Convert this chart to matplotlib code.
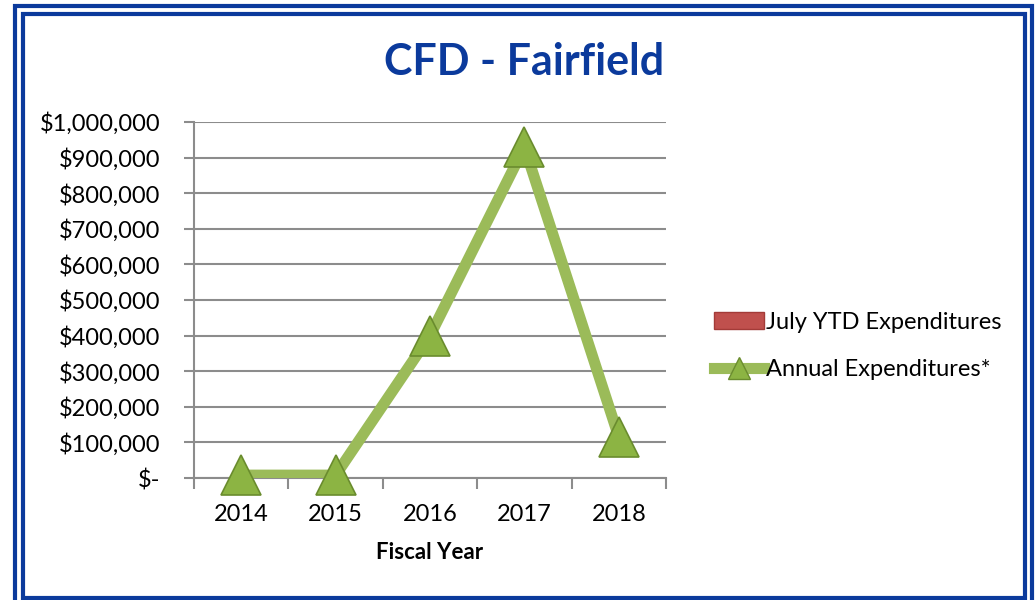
import matplotlib
matplotlib.use("Agg")
import matplotlib.pyplot as plt
from matplotlib.patches import Rectangle
from matplotlib.lines import Line2D
from matplotlib.patches import Patch
from matplotlib.ticker import FuncFormatter, MultipleLocator
import numpy as np

years = ["2014", "2015", "2016", "2017", "2018"]
july_ytd = [0, 0, 0, 0, 0]
annual = [8000, 8000, 400000, 930000, 115000]

title = "CFD - Fairfield"
xlabel = "Fiscal Year"
legend_labels = ["July YTD Expenditures", "Annual Expenditures*"]

BLUE = "#0B3A9C"
GREEN = "#9BBB59"
MARKER_FACE = "#8CB443"
MARKER_EDGE = "#6A8C2E"
GRID = "#8C8C8C"

plt.rcParams["font.family"] = ["Lato", "DejaVu Sans"]

fig = plt.figure(figsize=(10.36, 6.0), dpi=100)
W, H = 1036, 600


def frame(left, top, right, bottom, lw):
    fig.add_artist(Rectangle((left / W, (H - bottom) / H), (right - left) / W, (bottom - top) / H,
                             transform=fig.transFigure, fill=False, edgecolor=BLUE,
                             linewidth=lw, clip_on=False))


# double border
frame(15, 5.5, 1032, 606, 3.0)
frame(22.5, 13.5, 1025, 597.5, 3.0)

ax = fig.add_axes([194 / W, (H - 478) / H, (666 - 194) / W, (478 - 122) / H])
x = np.arange(len(years))

ax.bar(x, july_ytd, width=0.6, color="#C0504D", zorder=2)
ax.plot(x, annual, color=GREEN, linewidth=8, solid_joinstyle="miter", zorder=3)
ax.plot(x, annual, linestyle="none", marker="^", markersize=29,
        markerfacecolor=MARKER_FACE, markeredgecolor=MARKER_EDGE, markeredgewidth=1.2,
        zorder=4, clip_on=False)

ax.set_xlim(-0.5, len(years) - 0.5)
ax.set_ylim(0, 1000000)
ax.yaxis.set_major_locator(MultipleLocator(100000))
ax.yaxis.set_major_formatter(FuncFormatter(lambda v, p: "$-" if v == 0 else f"${v:,.0f}"))
ax.grid(axis="y", color=GRID, linewidth=1.5, zorder=0)
ax.set_axisbelow(True)

ax.set_xticks(x)
ax.set_xticklabels(years)
ax.set_xticks(np.arange(len(years) + 1) - 0.5, minor=True)
ax.tick_params(axis="x", which="major", length=0, pad=19, labelsize=17)
ax.tick_params(axis="x", which="minor", length=8, width=1.5, color=GRID, direction="out")
ax.tick_params(axis="y", length=7, width=1.5, color=GRID, direction="out", pad=17, labelsize=17)

for side in ["top", "right"]:
    ax.spines[side].set_visible(False)
for side in ["left", "bottom"]:
    ax.spines[side].set_color(GRID)
    ax.spines[side].set_linewidth(1.5)

ax.set_xlabel(xlabel, fontsize=16, fontweight="bold", labelpad=12)

fig.text(524 / W, (H - 62) / H, title, ha="center", va="center",
         fontsize=31, fontweight="bold", color=BLUE)

handles = [
    Patch(facecolor="#C0504D", edgecolor="#A33B38"),
    Line2D([0], [0], color=GREEN, linewidth=8, marker="^", markersize=16,
           markerfacecolor=MARKER_FACE, markeredgecolor=MARKER_EDGE),
]
fig.legend(handles, legend_labels, loc="center left", bbox_to_anchor=(705 / W, (H - 346) / H),
           frameon=False, fontsize=17, handlelength=2.1, handletextpad=0.1,
           labelspacing=1.1, borderaxespad=0)

fig.savefig("out.png", dpi=100)
